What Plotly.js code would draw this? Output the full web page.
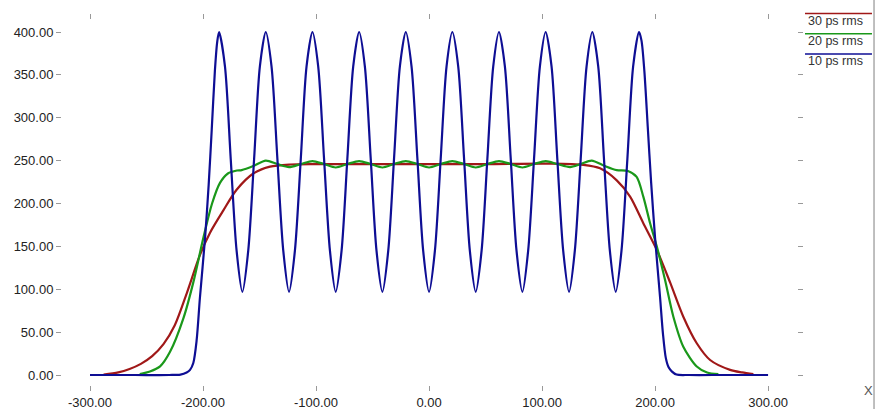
<!DOCTYPE html>
<html>
<head>
<meta charset="utf-8">
<script src="https://cdn.plot.ly/plotly-3.0.1.min.js"></script>
<style>
  html, body { margin: 0; padding: 0; background: #fff; }
  #chart { width: 876px; height: 409px; }
</style>
</head>
<body>
<div id="chart"></div>
<script>
// series names
const seriesNames = ['30 ps rms', '20 ps rms', '10 ps rms'];

// 30 ps rms (red) - smooth plateau
const redX = [-288, -275, -265, -255, -245, -235, -225, -214.5, -202.7, -193.8, -182, -170.3, -155.5, -140.7, -123, -100, -50, 0,
  50, 107, 136.5, 151.3, 166.1, 177.9, 189.6, 201.5, 213.3, 225, 236.9, 248.7, 266.4, 277, 287];
const redY = [0.5, 3, 7, 13, 22, 36, 58, 95, 140, 166, 192, 216, 235, 243, 245.5, 246, 246, 246,
  246, 246.5, 245, 241, 227, 208, 177, 146, 108, 68, 37, 17.5, 6, 3, 1];

// 20 ps rms (green) - plateau with small ripple
const greenX = [-256, -247, -238, -229.2, -217.4, -208.6, -199.7, -192, -185, -178, -170, -165.8, -155, -144.5, -134.2, -123.9, -113.5,
  -103.2, -92.9, -82.6, -72.3, -61.9, -51.6, -41.3, -31.0, -20.6, -10.3, 0,
  10.3, 20.6, 31.0, 41.3, 51.6, 61.9, 72.3, 82.6, 92.9, 103.2, 113.5, 124.8, 134.2, 143.9, 155, 166, 176,
  183.7, 189.6, 195.6, 201.5, 208.8, 216.2, 225, 236.9, 246, 256];
const greenY = [1, 4, 10, 27, 66, 108, 160, 200, 224, 235, 238.5, 239, 244, 250, 246, 242.5, 246,
  249.5, 246, 242, 246, 249.5, 246, 242, 246, 249.5, 246, 242,
  246, 249.5, 246, 242, 246, 249.5, 246, 242, 246, 249.5, 246, 242.5, 246, 250, 244, 239, 238,
  231, 208, 177, 150, 111, 68, 33, 10, 3, 1];

// 10 ps rms (blue) - ten peaks
const blueX = [-300, -260, -230, -220, -214.5, -211.5, -208.6, -205.7, -202.7, -198.2, -195, -192.3, -189.5, -187.5,
  -185.8, -180.6, -175.5, -170.3, -165.2, -160.0, -154.8, -149.7,
  -144.5, -139.4, -134.2, -129.0, -123.9, -118.7, -113.5, -108.4,
  -103.2, -98.1, -92.9, -87.7, -82.6, -77.4, -72.3, -67.1,
  -61.9, -56.8, -51.6, -46.5, -41.3, -36.1, -31.0, -25.8,
  -20.6, -15.5, -10.3, -5.2, 0, 5.2, 10.3, 15.5,
  20.6, 25.8, 31.0, 36.1, 41.3, 46.5, 51.6, 56.8,
  61.9, 67.1, 72.3, 77.4, 82.6, 87.7, 92.9, 98.1,
  103.2, 108.4, 113.5, 118.7, 123.9, 129.0, 134.2, 139.4,
  144.5, 149.7, 154.8, 160.0, 165.2, 170.3, 175.5, 180.6,
  185.8, 188, 190.5, 193.5, 196.5, 200, 204.4, 207, 209.5, 212, 215, 219, 230, 260, 300];
const blueY = [0, 0, 0, 0.5, 3, 6, 14, 40, 91, 160, 222, 286, 355, 388,
  400, 360, 252, 145, 97, 145, 252, 360,
  400, 360, 252, 145, 97, 145, 252, 360,
  400, 360, 252, 145, 97, 145, 252, 360,
  400, 360, 252, 145, 97, 145, 252, 360,
  400, 360, 252, 145, 97, 145, 252, 360,
  400, 360, 252, 145, 97, 145, 252, 360,
  400, 360, 252, 145, 97, 145, 252, 360,
  400, 360, 252, 145, 97, 145, 252, 360,
  400, 360, 252, 145, 97, 145, 252, 360,
  400, 390, 355, 290, 225, 160, 91, 48, 20, 9, 4, 0.5, 0, 0, 0];

// axis ticks
const xTickVals = [-300, -200, -100, 0, 100, 200, 300];
const xTickText = ['-300.00', '-200.00', '-100.00', '0.00', '100.00', '200.00', '300.00'];
const yTickVals = [0, 50, 100, 150, 200, 250, 300, 350, 400];

const colors = ['#a01818', '#1a981a', '#0e0e94'];
const font = 'Liberation Sans, Arial, sans-serif';

function line(x, y, i) {
  return {
    x: x, y: y, name: seriesNames[i],
    type: 'scatter', mode: 'lines',
    line: { color: colors[i], width: 2.2, shape: 'spline', smoothing: 0.8 }
  };
}

const traces = [line(redX, redY, 0), line(greenX, greenY, 1), line(blueX, blueY, 2)];

// hand-made legend: coloured line above each label, like the original
const legendY = [1.0178, 0.9625, 0.9068];
const shapes = [];
const annotations = [];
seriesNames.forEach((name, i) => {
  shapes.push({
    type: 'line', xref: 'paper', yref: 'paper',
    x0: 1.0109, x1: 1.1020, y0: legendY[i], y1: legendY[i],
    line: { color: colors[i], width: 1.5 }
  });
  annotations.push({
    xref: 'paper', yref: 'paper', x: 1.0122, y: legendY[i] - 0.02,
    xanchor: 'left', yanchor: 'middle', showarrow: false,
    text: name, font: { family: font, size: 12.5, color: '#333' }
  });
});
// right border line
shapes.push({
  type: 'line', xref: 'paper', yref: 'paper',
  x0: 1.1048, x1: 1.1048, y0: -0.07, y1: 1.06,
  line: { color: '#aaa', width: 1.5 }
});
annotations.push({
  xref: 'paper', yref: 'paper', x: 1.0966, y: -0.014,
  xanchor: 'center', yanchor: 'middle', showarrow: false,
  text: 'X', font: { family: font, size: 13, color: '#555' }
});

const layout = {
  width: 876, height: 409,
  margin: { l: 62, r: 79, t: 20, b: 24 },
  paper_bgcolor: '#fff', plot_bgcolor: '#fff',
  showlegend: false,
  font: { family: font, size: 13, color: '#222' },
  xaxis: {
    range: [-324.8, 325.6],
    tickvals: xTickVals, ticktext: xTickText,
    ticks: 'outside', ticklen: 5, tickwidth: 1, tickcolor: '#999',
    mirror: 'ticks', showline: false, showgrid: false, zeroline: false
  },
  yaxis: {
    range: [-11.66, 414],
    tickvals: yTickVals, tickformat: '.2f',
    ticks: 'outside', ticklen: 5, tickwidth: 1, tickcolor: '#999',
    mirror: 'ticks', showline: false, showgrid: false, zeroline: false
  },
  shapes: shapes,
  annotations: annotations
};

Plotly.newPlot('chart', traces, layout, { displayModeBar: false, staticPlot: true });
</script>
</body>
</html>
